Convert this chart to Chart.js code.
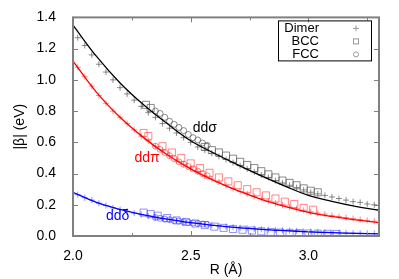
<!DOCTYPE html>
<html>
<head>
<meta charset="utf-8">
<script src="https://cdn.jsdelivr.net/npm/chart.js@4"></script>
<style>
  html, body { margin: 0; padding: 0; background: #fff; }
  #wrap { width: 399px; height: 279px; }
</style>
</head>
<body>
<div id="wrap"><canvas id="chart" width="399" height="279"></canvas></div>
<script>
// fitted curves
const curveR = [2.0, 2.1, 2.2, 2.3, 2.4, 2.5, 2.6, 2.7, 2.8, 2.9, 3.0, 3.1, 3.2, 3.3];
const sigmaFit = [1.35, 1.15, 0.98, 0.84, 0.72, 0.61, 0.53, 0.455, 0.385, 0.32, 0.26, 0.222, 0.19, 0.165];
const piFit = [1.12, 0.92, 0.76, 0.63, 0.52, 0.43, 0.355, 0.29, 0.235, 0.19, 0.152, 0.125, 0.103, 0.085];
const deltaFit = [0.28, 0.215, 0.17, 0.135, 0.108, 0.085, 0.068, 0.054, 0.043, 0.034, 0.027, 0.021, 0.017, 0.013];

// dimer points
const dimerR = [2.02, 2.05, 2.08, 2.11, 2.14, 2.17, 2.20, 2.23, 2.26, 2.29, 2.32, 2.35, 2.38, 2.41, 2.44,
  2.47, 2.50, 2.53, 2.56, 2.59, 2.62, 2.65, 2.68, 2.71, 2.74, 2.77, 2.80, 2.83, 2.86, 2.89, 2.92, 2.95,
  2.98, 3.01, 3.04, 3.07, 3.10, 3.13, 3.16, 3.19, 3.22, 3.25, 3.28];
const dimerSigma = [1.27, 1.22, 1.16, 1.10, 1.05, 1.00, 0.95, 0.91, 0.87, 0.83, 0.79, 0.76, 0.72, 0.69, 0.66,
  0.63, 0.60, 0.57, 0.55, 0.53, 0.51, 0.49, 0.47, 0.45, 0.43, 0.41, 0.39, 0.375, 0.355, 0.34, 0.325, 0.31,
  0.295, 0.28, 0.27, 0.26, 0.25, 0.24, 0.23, 0.22, 0.215, 0.205, 0.20];
const dimerPi = [1.08, 1.02, 0.96, 0.90, 0.85, 0.80, 0.76, 0.72, 0.68, 0.64, 0.61, 0.575, 0.545, 0.515, 0.485,
  0.46, 0.435, 0.41, 0.385, 0.365, 0.345, 0.325, 0.305, 0.285, 0.27, 0.255, 0.24, 0.225, 0.21, 0.20, 0.185, 0.175,
  0.165, 0.155, 0.147, 0.14, 0.132, 0.125, 0.118, 0.112, 0.106, 0.10, 0.095];
const dimerDelta = [0.265, 0.245, 0.23, 0.21, 0.195, 0.18, 0.17, 0.158, 0.147, 0.138, 0.128, 0.12, 0.112, 0.105, 0.098,
  0.091, 0.085, 0.08, 0.074, 0.069, 0.065, 0.06, 0.056, 0.053, 0.05, 0.046, 0.043, 0.041, 0.038, 0.036, 0.034, 0.032,
  0.03, 0.028, 0.026, 0.024, 0.023, 0.021, 0.02, 0.019, 0.018, 0.017, 0.016];

// bcc points
const bccSigmaR = [2.31, 2.33, 2.56, 2.59, 2.62, 2.65, 2.68, 2.71, 2.74, 2.77, 2.80, 2.83, 2.86, 2.89, 2.92, 2.95, 2.98, 3.01, 3.04];
const bccSigma = [0.84, 0.82, 0.57, 0.55, 0.535, 0.515, 0.495, 0.475, 0.455, 0.435, 0.415, 0.395, 0.375, 0.355, 0.34, 0.325, 0.305, 0.29, 0.28];
const bccPiR = [2.30, 2.32, 2.38, 2.42, 2.46, 2.50, 2.54, 2.58, 2.62, 2.66, 2.70, 2.74, 2.78, 2.82, 2.86, 2.90, 2.94, 2.98, 3.02];
const bccPi = [0.66, 0.64, 0.575, 0.535, 0.50, 0.465, 0.435, 0.405, 0.375, 0.35, 0.325, 0.30, 0.28, 0.26, 0.24, 0.22, 0.205, 0.18, 0.168];
const bccDeltaR = [2.30, 2.33, 2.36, 2.40, 2.44, 2.48, 2.52, 2.56, 2.60, 2.64, 2.68, 2.72, 2.76, 2.80, 2.84, 2.88, 2.92, 2.96, 3.00, 3.04, 3.08, 3.12];
const bccDelta = [0.15, 0.14, 0.13, 0.115, 0.10, 0.09, 0.08, 0.07, 0.06, 0.052, 0.045, 0.04, 0.035, 0.03, 0.026, 0.022, 0.02, 0.018, 0.016, 0.015, 0.014, 0.013];

// fcc points
const fccR = [2.35, 2.37, 2.39, 2.41, 2.43, 2.45, 2.47, 2.49, 2.51, 2.53, 2.55, 2.57];
const fccSigma = [0.80, 0.785, 0.76, 0.735, 0.715, 0.695, 0.675, 0.65, 0.63, 0.615, 0.595, 0.58];
const fccPi = [0.575, 0.555, 0.535, 0.515, 0.495, 0.475, 0.46, 0.445, 0.43, 0.415, 0.40, 0.385];
const fccDelta = [0.118, 0.113, 0.108, 0.104, 0.099, 0.095, 0.091, 0.087, 0.083, 0.080, 0.077, 0.074];

const xTicks = [2.0, 2.5, 3.0];
const xMinor = [2.25, 2.75, 3.25];
const yTicks = [0.0, 0.2, 0.4, 0.6, 0.8, 1.0, 1.2, 1.4];
const legendNames = ['Dimer', 'BCC', 'FCC'];
const curveLabels = ['ddσ', 'ddπ', 'ddδ'];
const labelPos = [[2.56, 0.69], [2.315, 0.50], [2.19, 0.13]];

const FONT = "'Liberation Sans', Arial, sans-serif";

function pts(xs, ys) {
    return xs.map((x, i) => ({ x: x, y: ys[i] }));
}

function curve(ys, color) {
    return {
        data: pts(curveR, ys), showLine: true, tension: 0.4, borderColor: color,
        borderWidth: 1.3, pointRadius: 0, fill: false
    };
}

function marks(xs, ys, style, color, r) {
    return {
        data: pts(xs, ys), showLine: false, pointStyle: style, pointRadius: r,
        pointBorderColor: color, pointBackgroundColor: 'rgba(0,0,0,0)', pointBorderWidth: 1
    };
}

const grayPt = 'rgba(90,90,90,0.7)';
const redPt = 'rgba(255,40,40,0.55)';
const bluePt = 'rgba(40,40,255,0.5)';

const datasets = [
    curve(sigmaFit, '#000000'),
    curve(piFit, '#ff0000'),
    curve(deltaFit, '#0000ff'),
    marks(dimerR, dimerSigma, 'cross', grayPt, 3),
    marks(dimerR, dimerPi, 'cross', redPt, 3),
    marks(dimerR, dimerDelta, 'cross', bluePt, 3),
    marks(bccSigmaR, bccSigma, 'rect', grayPt, 5),
    marks(bccPiR, bccPi, 'rect', redPt, 5),
    marks(bccDeltaR, bccDelta, 'rect', bluePt, 5),
    marks(fccR, fccSigma, 'circle', grayPt, 3),
    marks(fccR, fccPi, 'circle', redPt, 3),
    marks(fccR, fccDelta, 'circle', bluePt, 3)
];

// frame, inward ticks, curve labels, gnuplot-style key
const decor = {
    id: 'decor',
    afterDraw(chart) {
        const ctx = chart.ctx;
        const a = chart.chartArea;
        const xs = chart.scales.x, ys = chart.scales.y;
        ctx.save();
        ctx.strokeStyle = '#808080';
        ctx.lineWidth = 1;
        ctx.beginPath();
        xTicks.forEach(v => {
            const p = Math.round(xs.getPixelForValue(v)) + 0.5;
            ctx.moveTo(p, a.bottom); ctx.lineTo(p, a.bottom - 5);
            ctx.moveTo(p, a.top); ctx.lineTo(p, a.top + 5);
        });
        xMinor.forEach(v => {
            const p = Math.round(xs.getPixelForValue(v)) + 0.5;
            ctx.moveTo(p, a.bottom); ctx.lineTo(p, a.bottom - 3);
            ctx.moveTo(p, a.top); ctx.lineTo(p, a.top + 3);
        });
        yTicks.forEach(v => {
            const p = Math.round(ys.getPixelForValue(v)) + 0.5;
            ctx.moveTo(a.left, p); ctx.lineTo(a.left + 5, p);
            ctx.moveTo(a.right, p); ctx.lineTo(a.right - 5, p);
        });
        ctx.stroke();
        ctx.lineWidth = 2;
        ctx.strokeRect(a.left, a.top, a.right - a.left, a.bottom - a.top);

        // curve labels
        ctx.font = '14px ' + FONT;
        ctx.textAlign = 'center';
        ctx.textBaseline = 'middle';
        const cols = ['#000000', '#ff0000', '#0000ff'];
        curveLabels.forEach((t, i) => {
            ctx.fillStyle = cols[i];
            ctx.fillText(t, xs.getPixelForValue(labelPos[i][0]), ys.getPixelForValue(labelPos[i][1]));
        });

        // key box
        const bx = a.right - 101, by = a.top + 3, bw = 93, bh = 40;
        ctx.lineWidth = 1;
        ctx.strokeStyle = '#000';
        ctx.strokeRect(bx + 0.5, by + 0.5, bw, bh);
        ctx.font = '13px ' + FONT;
        ctx.textAlign = 'right';
        ctx.fillStyle = '#000';
        const mx = bx + 78;
        legendNames.forEach((t, i) => {
            const yy = by + 8 + i * 13;
            ctx.fillText(t, bx + 41, yy);
            ctx.strokeStyle = '#999';
            ctx.beginPath();
            if (i === 0) {
                ctx.moveTo(mx - 3, yy); ctx.lineTo(mx + 3, yy);
                ctx.moveTo(mx, yy - 3); ctx.lineTo(mx, yy + 3);
                ctx.stroke();
            } else if (i === 1) {
                ctx.strokeRect(mx - 2.5, yy - 2.5, 5, 5);
            } else {
                ctx.arc(mx, yy, 2.5, 0, Math.PI * 2);
                ctx.stroke();
            }
        });
        ctx.restore();
    }
};

new Chart(document.getElementById('chart'), {
    type: 'scatter',
    data: { datasets: datasets },
    options: {
        responsive: false,
        animation: false,
        layout: { padding: { top: 16, right: 20, left: 0, bottom: 0 } },
        plugins: { legend: { display: false }, tooltip: { enabled: false } },
        scales: {
            x: {
                type: 'linear', min: 2.0, max: 3.3,
                grid: { display: false }, border: { display: false },
                afterBuildTicks: s => { s.ticks = xTicks.map(v => ({ value: v })); },
                afterFit: s => { s.height = 43; },
                ticks: {
                    color: '#000', padding: 4, maxRotation: 0,
                    font: { family: FONT, size: 14 },
                    callback: v => v.toFixed(1)
                },
                title: {
                    display: true, text: 'R (Å)', color: '#000',
                    font: { family: FONT, size: 14 }, padding: { top: 2, bottom: 0 }
                }
            },
            y: {
                type: 'linear', min: 0, max: 1.4,
                grid: { display: false }, border: { display: false },
                afterBuildTicks: s => { s.ticks = yTicks.map(v => ({ value: v })); },
                afterFit: s => { s.width = 73; },
                ticks: {
                    color: '#000', padding: 9,
                    font: { family: FONT, size: 14 },
                    callback: v => v.toFixed(1)
                },
                title: {
                    display: true, text: '|β| (eV)', color: '#000',
                    font: { family: FONT, size: 14 }, padding: { top: 12, bottom: 0 }
                }
            }
        }
    },
    plugins: [decor]
});
</script>
</body>
</html>
